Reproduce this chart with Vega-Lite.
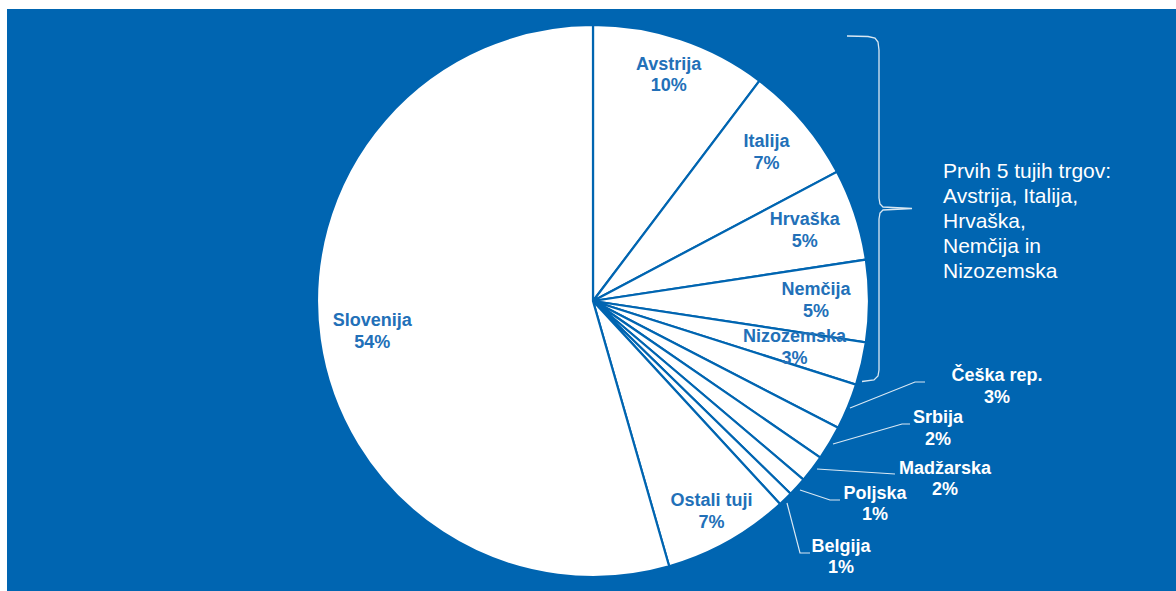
{
  "$schema": "https://vega.github.io/schema/vega-lite/v6.json",
  "width": 1176,
  "height": 591,
  "autosize": {"type": "fit", "contains": "padding"},
  "padding": {"left": 7, "top": 9, "right": 0, "bottom": 0},
  "background": "#ffffff",
  "config": {
    "view": {"fill": "#0065B1", "stroke": null},
    "text": {"lineBreak": "\n", "font": "Liberation Sans"}
  },
  "datasets": {
    "pie": [
      {"k": 0, "country": "Avstrija", "share": 10.3, "label": "Avstrija\n10%"},
      {"k": 1, "country": "Italija", "share": 6.95, "label": "Italija\n7%"},
      {"k": 2, "country": "Hrvaška", "share": 5.35, "label": "Hrvaška\n5%"},
      {"k": 3, "country": "Nemčija", "share": 4.8, "label": "Nemčija\n5%"},
      {"k": 4, "country": "Nizozemska", "share": 2.5, "label": "Nizozemska\n3%"},
      {"k": 5, "country": "Češka rep.", "share": 2.7, "label": "Češka rep.\n3%"},
      {"k": 6, "country": "Srbija", "share": 2.0, "label": "Srbija\n2%"},
      {"k": 7, "country": "Madžarska", "share": 1.6, "label": "Madžarska\n2%"},
      {"k": 8, "country": "Poljska", "share": 1.1, "label": "Poljska\n1%"},
      {"k": 9, "country": "Belgija", "share": 0.85, "label": "Belgija\n1%"},
      {"k": 10, "country": "Ostali tuji", "share": 7.4, "label": "Ostali tuji\n7%"},
      {"k": 11, "country": "Slovenija", "share": 54.45, "label": "Slovenija\n54%"}
    ],
    "outside": [
      {"x": 997, "y": 387, "label": "Češka rep.\n3%"},
      {"x": 938, "y": 429, "label": "Srbija\n2%"},
      {"x": 945, "y": 479.5, "label": "Madžarska\n2%"},
      {"x": 875, "y": 504.5, "label": "Poljska\n1%"},
      {"x": 841, "y": 557.5, "label": "Belgija\n1%"}
    ],
    "leaders": [
      {"id": "ceska", "i": 0, "x": 850, "y": 408},
      {"id": "ceska", "i": 1, "x": 915, "y": 382},
      {"id": "ceska", "i": 2, "x": 925, "y": 382},
      {"id": "srbija", "i": 0, "x": 833, "y": 444},
      {"id": "srbija", "i": 1, "x": 902, "y": 424},
      {"id": "srbija", "i": 2, "x": 910, "y": 424},
      {"id": "madz", "i": 0, "x": 817, "y": 469},
      {"id": "madz", "i": 1, "x": 895, "y": 474},
      {"id": "poljska", "i": 0, "x": 800, "y": 490},
      {"id": "poljska", "i": 1, "x": 830, "y": 500},
      {"id": "poljska", "i": 2, "x": 840, "y": 500},
      {"id": "belgija", "i": 0, "x": 787, "y": 503},
      {"id": "belgija", "i": 1, "x": 800, "y": 553},
      {"id": "belgija", "i": 2, "x": 810, "y": 553}
    ],
    "brace": [
      {"i": 0, "x": 847, "y": 36},
      {"i": 1, "x": 868, "y": 36.5},
      {"i": 2, "x": 875, "y": 38},
      {"i": 3, "x": 878, "y": 42},
      {"i": 4, "x": 879, "y": 50},
      {"i": 5, "x": 879, "y": 198},
      {"i": 6, "x": 880, "y": 204},
      {"i": 7, "x": 883, "y": 207},
      {"i": 8, "x": 912, "y": 208.5},
      {"i": 9, "x": 883, "y": 210},
      {"i": 10, "x": 880, "y": 213},
      {"i": 11, "x": 879, "y": 219},
      {"i": 12, "x": 879, "y": 370},
      {"i": 13, "x": 878, "y": 376},
      {"i": 14, "x": 874, "y": 380},
      {"i": 15, "x": 862, "y": 381.5}
    ],
    "note": [
      {"x": 943, "y": 171.7, "label": "Prvih 5 tujih trgov:\nAvstrija, Italija,\nHrvaška,\nNemčija in\nNizozemska"}
    ]
  },
  "layer": [
    {
      "data": {"name": "pie"},
      "mark": {"type": "arc", "outerRadius": 276, "fill": "#ffffff", "stroke": "#0065B1", "strokeWidth": 2.2},
      "encoding": {
        "theta": {"field": "share", "type": "quantitative", "stack": true},
        "order": {"field": "k", "type": "quantitative"},
        "x": {"datum": 593, "type": "quantitative", "axis": null, "scale": {"domain": [7, 1176], "nice": false, "zero": false}},
        "y": {"datum": 301, "type": "quantitative", "axis": null, "scale": {"domain": [9, 591], "nice": false, "zero": false, "reverse": true}}
      }
    },
    {
      "data": {"name": "pie"},
      "mark": {"type": "text", "fontSize": 18, "fontWeight": "bold", "color": "#2270B8", "align": "center", "baseline": "middle", "lineHeight": 21.5, "dy": -10.75},
      "encoding": {
        "theta": {"field": "share", "type": "quantitative", "stack": true},
        "order": {"field": "k", "type": "quantitative"},
        "radius": {"value": {"expr": "datum.k == 0 ? 238 : datum.k == 1 ? 228 : datum.k == 4 ? 207 : datum.k == 10 ? 242 : 223"}},
        "x": {"datum": 593, "type": "quantitative", "axis": null},
        "y": {"datum": 301, "type": "quantitative", "axis": null},
        "text": {"condition": {"test": "datum.k <= 4 || datum.k >= 10", "field": "label", "type": "nominal"}, "value": ""}
      }
    },
    {
      "data": {"name": "leaders"},
      "mark": {"type": "line", "color": "#ffffff", "strokeWidth": 1.2, "opacity": 0.85},
      "encoding": {
        "x": {"field": "x", "type": "quantitative", "axis": null},
        "y": {"field": "y", "type": "quantitative", "axis": null},
        "detail": {"field": "id", "type": "nominal"},
        "order": {"field": "i", "type": "quantitative"}
      }
    },
    {
      "data": {"name": "brace"},
      "mark": {"type": "line", "color": "#ffffff", "strokeWidth": 1.3, "opacity": 0.85, "interpolate": "linear"},
      "encoding": {
        "x": {"field": "x", "type": "quantitative", "axis": null},
        "y": {"field": "y", "type": "quantitative", "axis": null},
        "order": {"field": "i", "type": "quantitative"}
      }
    },
    {
      "data": {"name": "outside"},
      "mark": {"type": "text", "fontSize": 18, "fontWeight": "bold", "color": "#ffffff", "align": "center", "baseline": "middle", "lineHeight": 21.5, "dy": -10.75},
      "encoding": {
        "x": {"field": "x", "type": "quantitative", "axis": null},
        "y": {"field": "y", "type": "quantitative", "axis": null},
        "text": {"field": "label", "type": "nominal"}
      }
    },
    {
      "data": {"name": "note"},
      "mark": {"type": "text", "fontSize": 21, "fontWeight": "normal", "color": "#ffffff", "align": "left", "baseline": "middle", "lineHeight": 25},
      "encoding": {
        "x": {"field": "x", "type": "quantitative", "axis": null},
        "y": {"field": "y", "type": "quantitative", "axis": null},
        "text": {"field": "label", "type": "nominal"}
      }
    }
  ]
}
